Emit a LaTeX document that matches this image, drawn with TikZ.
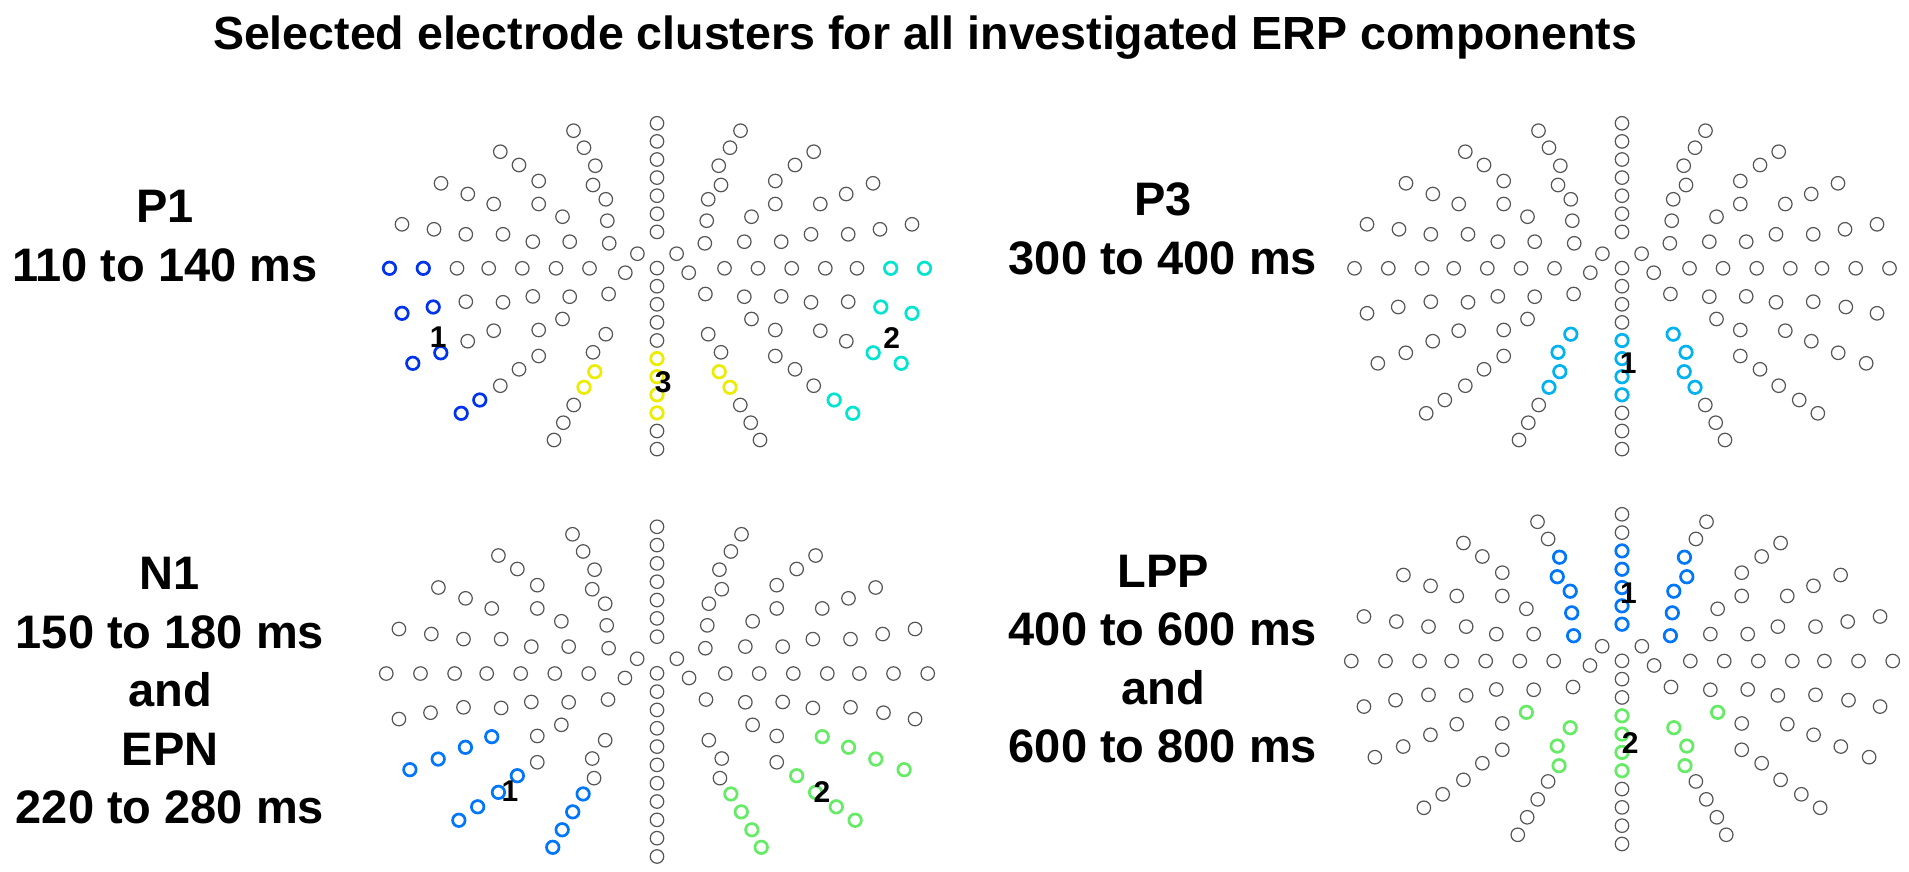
\documentclass[tikz,border=0pt]{standalone}
\usepackage{fontspec}
\setmainfont{Liberation Sans}
\usepackage{tikz}
\usetikzlibrary{positioning}

\definecolor{elecgray}{RGB}{85,85,85}
\definecolor{deepblue}{RGB}{0,51,238}
\definecolor{turq}{RGB}{0,228,208}
\definecolor{yell}{RGB}{236,236,0}
\definecolor{sky}{RGB}{0,178,240}
\definecolor{azure}{RGB}{0,118,250}
\definecolor{lgreen}{RGB}{102,235,102}

\tikzset{
  elec/.style={circle, draw=elecgray, line width=1.2pt, inner sep=0pt, minimum size=13.5pt},
  cluBlue/.style={elec, draw=deepblue, line width=2.7pt, minimum size=12.5pt},
  cluTurq/.style={cluBlue, draw=turq},
  cluYellow/.style={cluBlue, draw=yell},
  cluSky/.style={cluBlue, draw=sky},
  cluAzure/.style={cluBlue, draw=azure},
  cluGreen/.style={cluBlue, draw=lgreen},
  clunum/.style={font=\fontsize{30}{30}\selectfont\bfseries, inner sep=0pt},
  tlabel/.style={align=center, font=\fontsize{47}{58.5}\selectfont\bfseries, inner sep=0pt}
}

% one half of the 128 channel montage (right side, left side is mirrored)
\newcommand\halfmontage{1/83.5/-119.3, 2/73/-102.3, 3/61.7/-84.3, 4/64/-65, 5/51.2/-50.7, 6/49.7/-29.3, 7/47.8/-6.7,
  8/156.7/-98.3, 9/138/-85, 10/118.3/-69, 11/118.3/-46, 12/94.5/-33.3, 13/87.3/-8.3, 14/124.2/-8.3,
  15/216/-66.7, 16/189.2/-56, 17/163.3/-46, 18/255/-25.7, 19/223/-20.7, 20/191.2/-15.7, 21/154/-15.7,
  22/67.5/18.3, 23/101/18.3, 24/134.7/18.3, 25/168.3/18.3, 26/200/18.3, 27/233.7/18.3, 28/267.5/18.3,
  29/19.6/3.7, 30/31.7/22.7,
  31/48.4/44, 32/87.3/46.7, 33/124.2/46.4, 34/154/52.3, 35/191.2/51.7, 36/223.8/57, 37/255/63.3,
  38/94.5/69, 39/118.3/80, 40/163.3/80.7, 41/189.3/91.2, 42/216.2/102.8, 43/244.2/113.3,
  44/51.2/84.2, 45/64/102.3, 46/62.2/121.7, 47/73/137.3, 48/83.3/155, 49/93.7/172.7, 50/103/190,
  51/118.3/106, 52/138/119.3, 53/156.7/135.7, 54/177.2/150, 55/195.8/163.3}

\newcommand\clustered[3]{% plot, style, electrodes
  \foreach \e in {#3}{\expandafter\xdef\csname clu@#1@\e\endcsname{#2}}}
\newcommand\elecstyle[2]{%
  \ifcsname clu@#1@#2\endcsname\edef\st{\csname clu@#1@#2\endcsname}\else\def\st{elec}\fi}
\newcommand\montage[1]{%
  \foreach \k in {-7,-6,-5,-4,-3,-2,-1,1,2,3,4,5,6,7,8,9,10,11}{
    \elecstyle{#1}{m\k}
    \node[\st] (#1-m\k) at (0,\k*18.1) {};
  }
  \foreach \n/\x/\y in \halfmontage{
    \elecstyle{#1}{l\n}
    \node[\st] (#1-l\n) at (-\x,\y) {};
    \elecstyle{#1}{r\n}
    \node[\st] (#1-r\n) at (\x,\y) {};
  }}

\begin{document}
\begin{tikzpicture}[x=1pt, y=-1pt]
\path[use as bounding box, fill=white] (0,0) rectangle (1909,872);

\clustered{P1}{cluBlue}{l27,l28,l36,l37,l42,l43,l54,l55}
\clustered{P1}{cluTurq}{r27,r28,r36,r37,r42,r43,r54,r55}
\clustered{P1}{cluYellow}{m6,m7,m8,m9,l46,l47,r46,r47}
\clustered{P3}{cluSky}{m5,m6,m7,m8,l44,l45,l46,l47,r44,r45,r46,r47}
\clustered{N1}{cluAzure}{l40,l41,l42,l43,l47,l48,l49,l50,l52,l53,l54,l55}
\clustered{N1}{cluGreen}{r40,r41,r42,r43,r47,r48,r49,r50,r52,r53,r54,r55}
\clustered{LPP}{cluAzure}{m-5,m-4,m-3,m-2,m-1,l3,l4,l5,l6,l7,r3,r4,r5,r6,r7}
\clustered{LPP}{cluGreen}{m4,m5,m6,m7,l38,l44,l45,l46,r38,r44,r45,r46}

\node[font=\fontsize{46.5}{46.5}\selectfont\bfseries, anchor=base, inner sep=0pt] (title) at (925,50)
  {Selected electrode clusters for all investigated ERP components};

% labels
\node[tlabel] (lblP1) at (165,236) {P1\\110 to 140 ms};
\node[tlabel] (lblP3) at (1163,229) {P3\\300 to 400 ms};
\node[tlabel] (lblN1) at (170,691) {N1\\150 to 180 ms\\and\\EPN\\220 to 280 ms};
\node[tlabel] (lblLPP) at (1163,659) {LPP\\400 to 600 ms\\and\\600 to 800 ms};

% montages
\begin{scope}[shift={(657,250)}]
  \montage{P1}
  \node[clunum] (P1-c1) at (-218.7,86.7) {1};
  \node[clunum] (P1-c2) at (234.7,88.3) {2};
  \node[clunum] (P1-c3) at (6.3,131.7) {3};
\end{scope}

\begin{scope}[shift={(1622,250)}]
  \montage{P3}
  \node[clunum] (P3-c1) at (6.3,113.3) {1};
\end{scope}

\begin{scope}[shift={(657,655)}, scale=1.012]
  \montage{N1}
  \node[clunum] (N1-c1) at (-145.3,135) {1};
  \node[clunum] (N1-c2) at (163,135) {2};
\end{scope}

\begin{scope}[shift={(1622,642.5)}, scale=1.012]
  \montage{LPP}
  \node[clunum] (LPP-c1) at (6.3,-49) {1};
  \node[clunum] (LPP-c2) at (8,99) {2};
\end{scope}
\end{tikzpicture}
\end{document}
